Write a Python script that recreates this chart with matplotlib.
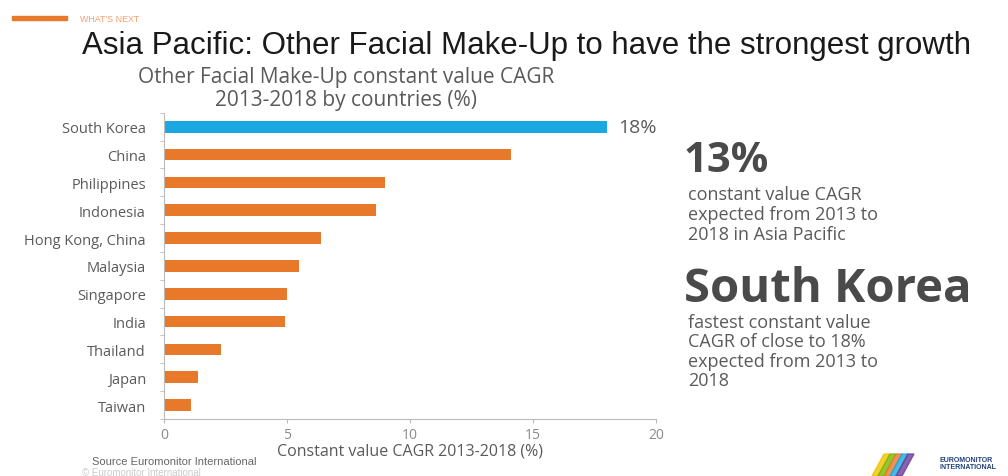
import numpy as np
import matplotlib
matplotlib.use("Agg")
import matplotlib.pyplot as plt

# Data -----------------------------------------------------------------
countries = ["South Korea", "China", "Philippines", "Indonesia", "Hong Kong, China",
             "Malaysia", "Singapore", "India", "Thailand", "Japan", "Taiwan"]
cagr = [18.0, 14.1, 9.0, 8.6, 6.4, 5.5, 5.0, 4.9, 2.3, 1.4, 1.1]
highlight = "South Korea"
xticks = [0, 5, 10, 15, 20]

ORANGE = "#E8792B"
BLUE = "#1BA8E0"
GREY = "#5a5a5a"
LIGHT = "#8a8a8a"
FONT = "Open Sans"

fig = plt.figure(figsize=(10.08, 4.77), dpi=100)
ax = fig.add_axes([0.1627, 0.1195, 0.488, 0.642])

y = np.arange(len(countries))
colors = [BLUE if c == highlight else ORANGE for c in countries]
ax.barh(y, cagr, height=0.42, color=colors)
ax.set_ylim(len(countries) - 0.5, -0.5)
ax.set_xlim(0, 20)
ax.set_yticks(y)
ax.set_yticklabels(countries, fontsize=10.5, color=GREY, family=FONT)
ax.set_yticks(np.arange(-0.5, len(countries), 1), minor=True)
ax.tick_params(axis="y", which="major", length=0, pad=13)
ax.tick_params(axis="y", which="minor", length=3, color="#bbbbbb")
ax.set_xticks(xticks)
ax.set_xticklabels([str(t) for t in xticks], fontsize=10, color=LIGHT, family=FONT)
ax.tick_params(axis="x", length=3, color="#bbbbbb", pad=3)
ax.set_xlabel("Constant value CAGR 2013-2018 (%)", fontsize=11.5, color=GREY,
              family=FONT, labelpad=0)
for s in ["top", "right"]:
    ax.spines[s].set_visible(False)
for s in ["left", "bottom"]:
    ax.spines[s].set_color("#bbbbbb")

# value label on highlighted bar
i = countries.index(highlight)
ax.text(cagr[i] + 0.45, y[i], "{:.0f}%".format(cagr[i]), va="center", ha="left",
        fontsize=14, color=GREY, family=FONT)

# Header ---------------------------------------------------------------
fig.patches.append(plt.Rectangle((12 / 1008, 1 - 21 / 477), 55 / 1008, 4 / 477,
                                 transform=fig.transFigure, color=ORANGE))
fig.text(80 / 1008, 1 - 19 / 477, "WHAT'S NEXT", fontsize=6.4, color="#f0a070",
         va="center", family="Liberation Sans")
fig.text(82 / 1008, 1 - 46 / 477,
         "Asia Pacific: Other Facial Make-Up to have the strongest growth",
         fontsize=22.5, color="#1a1a1a", va="center", family="Liberation Sans")
fig.text(346 / 1008, 1 - 89 / 477,
         "Other Facial Make-Up constant value CAGR\n2013-2018 by countries (%)",
         fontsize=15, color=GREY, va="center", ha="center", family=FONT,
         linespacing=1.1)

# Right panel ----------------------------------------------------------
fig.text(684 / 1008, 1 - 162 / 477, "13%", fontsize=30, fontweight="bold",
         color="#4a4a4a", va="center", family=FONT)
fig.text(688 / 1008, 1 - 215 / 477,
         "constant value CAGR\nexpected from 2013 to\n2018 in Asia Pacific",
         fontsize=13, color=GREY, va="center", family=FONT, linespacing=1.12)
fig.text(684 / 1008, 1 - 290 / 477, "South Korea", fontsize=34, fontweight="bold",
         color="#4a4a4a", va="center", family=FONT)
fig.text(688 / 1008, 1 - 352 / 477,
         "fastest constant value\nCAGR of close to 18%\nexpected from 2013 to\n2018",
         fontsize=13, color=GREY, va="center", family=FONT, linespacing=1.1)

# Footer ---------------------------------------------------------------
fig.text(92 / 1008, 1 - 462 / 477, "Source Euromonitor International", fontsize=8,
         color="#666666", va="center", family="Liberation Sans")
fig.text(82 / 1008, 1 - 473 / 477, "© Euromonitor International", fontsize=7,
         color="#cccccc", va="center", family="Liberation Sans")
stripe_cols = ["#f2c200", "#7ab800", "#e8792b", "#1ba8e0", "#6a3d9a"]
for k, c in enumerate(stripe_cols):
    fig.patches.append(plt.Polygon(
        [((872 + 6 * k) / 1008, 0.0), ((878 + 6 * k) / 1008, 0.0),
         ((890 + 6 * k) / 1008, 22 / 477), ((884 + 6 * k) / 1008, 22 / 477)],
        closed=True, transform=fig.transFigure, color=c, alpha=0.8))
fig.text(940 / 1008, 1 - 464 / 477, "EUROMONITOR\nINTERNATIONAL", fontsize=5,
         color="#1f3f7a", va="center", family="Liberation Sans", fontweight="bold",
         linespacing=1.1)

fig.savefig("out.png", dpi=100)
